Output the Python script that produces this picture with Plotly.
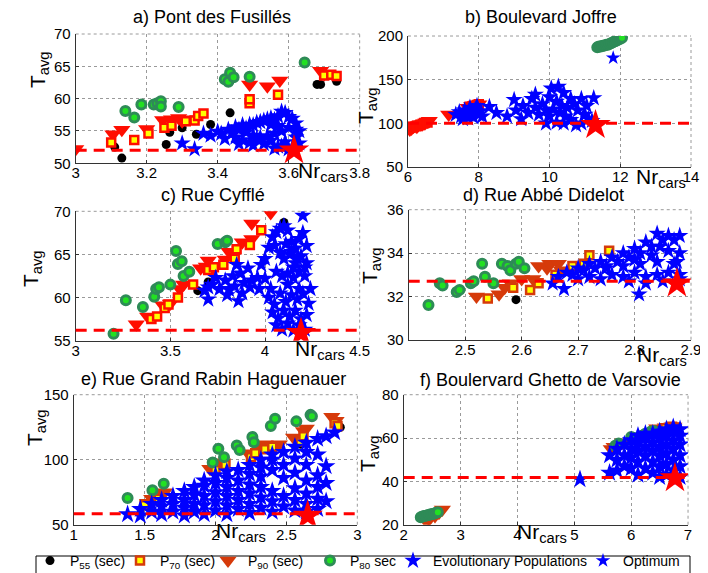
import plotly.graph_objects as go

FONT = "Liberation Sans, Arial, sans-serif"

# ---------------- panel a) Pont des Fusillés ----------------
a_title = "a) Pont des Fusillés"
a_xticks = [3, 3.2, 3.4, 3.6, 3.8]
a_yticks = [50, 55, 60, 65, 70]
a_p55_x = [3.11, 3.13, 3.255, 3.265, 3.30, 3.34, 3.38, 3.435, 3.68, 3.69, 3.735]
a_p55_y = [52.5, 50.8, 52.9, 54.8, 55.5, 54.5, 56.0, 57.8, 62.2, 62.2, 62.7]
a_p70_x = [3.10, 3.165, 3.205, 3.25, 3.27, 3.31, 3.335, 3.345, 3.36, 3.49, 3.49, 3.57, 3.70, 3.72, 3.735]
a_p70_y = [53.2, 53.6, 54.6, 55.5, 55.8, 56.5, 56.6, 57.3, 57.7, 59.3, 59.9, 60.6, 63.6, 63.7, 63.5]
a_p90_x = [3.0, 3.105, 3.13, 3.20, 3.245, 3.27, 3.29, 3.30, 3.31, 3.49, 3.54, 3.575, 3.69, 3.70]
a_p90_y = [52.2, 54.5, 55.2, 55.3, 56.7, 56.8, 57.0, 56.5, 56.8, 62.2, 61.9, 62.8, 64.3, 63.8]
a_p80_x = [3.14, 3.165, 3.185, 3.22, 3.23, 3.24, 3.24, 3.29, 3.42, 3.43, 3.435, 3.445, 3.49, 3.645]
a_p80_y = [58.1, 57.1, 59.1, 59.1, 59.3, 59.6, 58.8, 58.7, 63.0, 62.6, 64.0, 63.3, 63.4, 65.6]
a_evo_x = [3.30, 3.335, 3.36, 3.38, 3.40, 3.41, 3.43, 3.44, 3.45, 3.46, 3.47, 3.48, 3.49, 3.50,
           3.51, 3.52, 3.53, 3.54, 3.55, 3.56, 3.57, 3.58, 3.59, 3.60, 3.61, 3.62,
           3.45, 3.47, 3.49, 3.51, 3.53, 3.55, 3.57, 3.59, 3.61, 3.63,
           3.48, 3.50, 3.52, 3.54, 3.56, 3.58, 3.60, 3.62,
           3.42, 3.46, 3.50, 3.56, 3.58, 3.60, 3.62, 3.63, 3.57, 3.55]
a_evo_y = [53.1, 52.2, 54.6, 54.3, 54.9, 54.6, 55.2, 54.7, 55.6, 55.2, 55.9, 55.4, 56.0, 55.9,
           56.3, 56.4, 56.6, 56.8, 57.0, 56.7, 57.3, 58.0, 57.8, 57.2, 56.9, 56.2,
           54.0, 53.6, 53.2, 53.8, 53.0, 53.5, 52.6, 53.3, 52.4, 53.1,
           54.8, 54.3, 54.0, 54.2, 54.6, 55.0, 55.5, 55.2,
           53.8, 53.0, 52.8, 52.3, 52.6, 52.2, 54.0, 55.0, 55.8, 56.0]
a_opt_x = [3.615]
a_opt_y = [52.0]
a_ref = 52.0

# ---------------- panel b) Boulevard Joffre ----------------
b_title = "b) Boulevard Joffre"
b_xticks = [6, 8, 10, 12, 14]
b_yticks = [50, 100, 150, 200]
b_p55_x = []
b_p55_y = []
b_p90_x = [6.0, 6.05, 6.1, 6.15, 6.2, 6.25, 6.3, 6.35, 6.4, 6.45, 6.5, 6.55, 6.6, 7.15, 7.7, 7.8, 7.9, 8.0]
b_p90_y = [95, 93, 94, 96, 97, 96, 98, 99, 99, 100, 101, 102, 103, 110, 118, 120, 121, 122]
b_p70_x = [6.05, 6.15, 6.25, 6.35, 6.45, 6.55, 7.75, 7.85, 7.95, 8.0]
b_p70_y = [95, 96, 97, 98, 100, 101, 119, 120, 121, 122]
b_p80_x = [11.35, 11.4, 11.45, 11.5, 11.55, 11.6, 11.65, 11.7, 11.75, 11.8, 11.85, 11.9, 11.95, 12.0, 12.05]
b_p80_y = [187, 188, 188, 189, 189, 190, 190, 191, 192, 193, 194, 195, 196, 197, 198]
b_evo_x = [7.35, 7.45, 7.5, 7.6, 7.65, 7.75, 7.8, 7.85, 7.9, 8.0, 8.05, 8.1, 7.55, 7.7, 7.95,
           8.3, 8.5, 8.8, 9.0, 9.05, 9.25, 9.5, 9.6, 9.8, 9.9, 10.05, 10.25, 10.4, 10.6, 10.9,
           11.25, 10.0, 10.2, 9.7, 10.3, 10.5, 10.8, 11.0, 11.1, 10.6, 10.4, 10.2, 10.9, 11.2,
           9.4, 9.2, 10.0, 10.7, 9.9, 10.35, 10.1, 11.05, 9.6, 10.45, 10.75]
b_evo_y = [110, 113, 108, 115, 110, 118, 112, 107, 116, 110, 114, 108, 105, 106, 120,
           119, 112, 108, 127, 115, 120, 128, 133, 122, 115, 140, 142, 135, 128, 128,
           129, 130, 125, 110, 112, 118, 115, 110, 105, 104, 100, 101, 100, 103,
           112, 105, 108, 122, 100, 120, 116, 120, 118, 108, 98]
b_best_x = [11.8]
b_best_y = [175]
b_opt_x = [11.3]
b_opt_y = [98]
b_ref = 100.0

# ---------------- panel c) Rue Cyfflé ----------------
c_title = "c) Rue Cyfflé"
c_xticks = [3, 3.5, 4, 4.5]
c_yticks = [55, 60, 65, 70]
c_p55_x = [3.645, 3.70, 4.10]
c_p55_y = [60.8, 61.8, 68.7]
c_p90_x = [3.32, 3.38, 3.46, 3.50, 3.55, 3.57, 3.66, 3.69, 3.70, 3.72, 3.79, 3.81, 3.88, 3.93, 3.93, 4.03]
c_p90_y = [56.9, 57.8, 59.1, 59.3, 61.0, 61.5, 63.4, 63.6, 64.3, 63.2, 64.4, 65.3, 66.4, 66.8, 68.6, 69.8]
c_p70_x = [3.40, 3.43, 3.47, 3.49, 3.54, 3.62, 3.70, 3.73, 3.78, 3.84, 3.85, 3.92, 3.98]
c_p70_y = [57.5, 57.8, 58.8, 59.2, 60.0, 61.5, 63.2, 63.5, 63.8, 64.5, 65.6, 66.1, 67.8]
c_p80_x = [3.20, 3.265, 3.355, 3.415, 3.425, 3.44, 3.50, 3.53, 3.54, 3.56, 3.57, 3.60, 3.75, 3.79, 3.80]
c_p80_y = [55.8, 59.7, 58.9, 60.1, 61.0, 61.2, 61.5, 65.4, 63.9, 64.2, 62.5, 63.0, 66.2, 66.4, 66.6]
c_evo_x = [3.68, 3.70, 3.72, 3.74, 3.70, 3.76, 3.79, 3.81, 3.83, 3.85, 3.87, 3.89, 3.91, 3.93,
           3.80, 3.84, 3.88, 3.92, 3.86,
           3.96, 3.98, 4.00, 4.02, 4.04, 4.06, 4.08, 4.10, 4.12, 4.14, 4.16, 4.18, 4.20, 4.22,
           3.97, 4.00, 4.03, 4.06, 4.09, 4.12, 4.15, 4.18, 4.21, 4.24,
           4.02, 4.05, 4.08, 4.11, 4.14, 4.17, 4.20, 4.23,
           4.04, 4.07, 4.10, 4.13, 4.16, 4.19, 4.22,
           4.06, 4.09, 4.12, 4.15, 4.18, 4.21,
           4.10, 4.13, 4.16, 4.19, 4.22,
           4.12, 4.15, 4.18, 4.21,
           4.20, 4.05, 4.08, 4.11, 4.14, 4.17]
c_evo_y = [60.8, 59.8, 61.5, 62.3, 61.2, 61.0, 62.0, 60.9, 62.5, 63.8, 62.8, 61.7, 63.4, 62.0,
           60.3, 61.3, 60.5, 61.2, 59.6,
           62.3, 63.8, 64.5, 65.8, 67.0, 67.6, 68.0, 68.3, 67.8, 66.5, 65.7, 66.8, 67.5, 66.0,
           61.0, 62.2, 61.0, 63.0, 62.5, 61.5, 62.3, 61.0, 62.5, 61.0,
           60.0, 59.2, 60.5, 59.5, 60.3, 59.8, 60.5, 59.3,
           58.3, 57.6, 58.5, 57.8, 58.5, 57.5, 58.0,
           56.8, 56.3, 57.0, 56.2, 56.8, 56.3,
           64.5, 65.0, 64.0, 64.8, 64.0,
           62.8, 63.5, 63.0, 63.5,
           69.5, 66.0, 65.2, 66.2, 65.3, 64.5]
c_opt_x = [4.19]
c_opt_y = [55.9]
c_ref = 56.2

# ---------------- panel d) Rue Abbé Didelot ----------------
d_title = "d) Rue Abbé Didelot"
d_xticks = [2.5, 2.6, 2.7, 2.8, 2.9]
d_yticks = [30, 32, 34, 36]
d_p55_x = [2.59]
d_p55_y = [31.85]
d_p90_x = [2.52, 2.56, 2.57, 2.58, 2.60, 2.62, 2.63, 2.645, 2.65, 2.665, 2.67]
d_p90_y = [32.0, 32.1, 32.4, 32.6, 32.8, 32.8, 33.4, 33.3, 33.5, 33.5, 33.2]
d_p70_x = [2.54, 2.585, 2.615, 2.63, 2.66, 2.69, 2.71, 2.72, 2.755]
d_p70_y = [31.9, 32.4, 32.3, 32.6, 33.0, 33.4, 33.5, 33.9, 34.1]
d_p80_x = [2.435, 2.455, 2.46, 2.485, 2.49, 2.51, 2.515, 2.53, 2.535, 2.55, 2.565, 2.575, 2.58, 2.59, 2.595, 2.605]
d_p80_y = [31.6, 32.6, 32.5, 32.2, 32.3, 32.6, 32.7, 33.5, 32.9, 32.6, 33.5, 33.4, 33.2, 33.5, 33.6, 33.3]
d_evo_x = [2.655, 2.675, 2.665, 2.68, 2.69, 2.70, 2.71, 2.72, 2.73, 2.74, 2.75, 2.76, 2.77, 2.78,
           2.79, 2.80, 2.81, 2.82, 2.83, 2.84, 2.85, 2.86, 2.87, 2.88,
           2.70, 2.72, 2.74, 2.76, 2.78, 2.80, 2.82, 2.84, 2.86, 2.88,
           2.75, 2.78, 2.81, 2.84, 2.87,
           2.79, 2.82, 2.85, 2.88,
           2.808, 2.80, 2.83, 2.86, 2.88, 2.845, 2.875]
d_evo_y = [32.6, 32.35, 32.9, 33.1, 33.0, 33.3, 33.2, 33.5, 33.3, 33.6, 33.4, 33.8, 33.6, 34.0,
           33.8, 34.2, 34.0, 34.5, 34.3, 34.9, 34.6, 34.8, 34.6, 34.8,
           32.8, 32.9, 32.8, 33.0, 32.9, 33.1, 32.9, 33.0, 33.1, 33.0,
           33.3, 33.4, 33.5, 33.6, 33.5,
           32.7, 32.6, 32.7, 32.8,
           32.1, 33.7, 33.9, 34.1, 34.0, 34.3, 33.6]
d_opt_x = [2.875]
d_opt_y = [32.6]
d_ref = 32.7

# ---------------- panel e) Rue Grand Rabin Haguenauer ----------------
e_title = "e) Rue Grand Rabin Haguenauer"
e_xticks = [1, 1.5, 2, 2.5, 3]
e_yticks = [50, 100, 150]
e_p55_x = [2.88, 2.60]
e_p55_y = [125, 112]
e_p90_x = [1.52, 1.55, 1.62, 1.64, 1.96, 2.00, 2.05, 2.23, 2.30, 2.35, 2.45, 2.55, 2.62, 2.64, 2.82, 2.85]
e_p90_y = [67, 70, 73, 75, 93, 95, 98, 105, 110, 112, 112, 117, 122, 124, 133, 130]
e_p70_x = [1.50, 1.60, 2.00, 2.07, 2.25, 2.28, 2.35, 2.40, 2.60, 2.62, 2.84, 2.86]
e_p70_y = [65, 70, 92, 96, 102, 105, 108, 110, 114, 118, 128, 126]
e_p80_x = [1.38, 1.555, 1.635, 1.98, 2.02, 2.06, 2.15, 2.17, 2.26, 2.27, 2.39, 2.42, 2.57, 2.67, 2.68]
e_p80_y = [70.5, 76.5, 81.5, 97.8, 108.5, 102, 111, 107.5, 117.5, 113.5, 126, 131.5, 129.5, 134.5, 133.5]
e_evo_x = [1.38,
           1.47, 1.47,
           1.55, 1.55,
           1.62, 1.62, 1.62,
           1.70, 1.70, 1.70,
           1.78, 1.78, 1.78, 1.78,
           1.85, 1.85, 1.85, 1.85,
           1.92, 1.92, 1.92, 1.92, 1.92,
           2.00, 2.00, 2.00, 2.00, 2.00,
           2.08, 2.08, 2.08, 2.08, 2.08, 2.08,
           2.16, 2.16, 2.16, 2.16, 2.16,
           2.24, 2.24, 2.24, 2.24, 2.24, 2.24,
           2.32, 2.32, 2.32, 2.32, 2.32, 2.32,
           2.40, 2.40, 2.40, 2.40, 2.40, 2.40,
           2.48, 2.48, 2.48, 2.48, 2.48,
           2.56, 2.56, 2.56, 2.56, 2.56, 2.56,
           2.64, 2.64, 2.64, 2.64, 2.64, 2.64, 2.64,
           2.72, 2.72, 2.72, 2.72, 2.72, 2.72,
           2.78, 2.78, 2.78, 2.78,
           2.84]
e_evo_y = [58,
           62, 57,
           60, 66,
           58, 64, 69,
           60, 66, 72,
           57, 63, 69, 76,
           60, 66, 73, 79,
           58, 65, 72, 80, 84,
           61, 68, 75, 82, 88,
           58, 65, 72, 79, 86, 91,
           62, 69, 76, 84, 92,
           59, 66, 74, 81, 89, 96,
           63, 71, 79, 87, 94, 100,
           60, 68, 76, 92, 100, 104,
           64, 72, 86, 96, 106,
           61, 69, 78, 90, 101, 110,
           60, 66, 74, 84, 96, 106, 113,
           62, 70, 79, 88, 104, 116,
           68, 82, 95, 118,
           121]
e_opt_x = [2.65]
e_opt_y = [57]
e_ref = 58.5

# ---------------- panel f) Boulervard Ghetto de Varsovie ----------------
f_title = "f) Boulervard Ghetto de Varsovie"
f_xticks = [2, 3, 4, 5, 6, 7]
f_yticks = [20, 40, 60, 80]
f_p55_x = []
f_p55_y = []
f_p90_x = [2.40, 2.45, 2.55, 2.62, 2.68, 5.65, 5.70, 5.85, 6.45, 6.60, 6.72, 6.75]
f_p90_y = [21.5, 22.5, 24.0, 25.5, 27.0, 55.0, 56.0, 58.0, 64.5, 65.0, 65.5, 65.3]
f_p70_x = [6.60, 6.72, 6.75]
f_p70_y = [64.5, 65.2, 64.8]
f_p80_x = [2.30, 2.33, 2.36, 2.39, 2.42, 2.45, 2.48, 2.51, 2.54, 2.57, 2.60,
           5.72, 5.78, 6.00, 6.05, 6.20, 6.25, 6.35, 6.40]
f_p80_y = [23.5, 23.8, 24.0, 24.2, 24.4, 24.6, 24.8, 25.0, 25.2, 25.5, 25.8,
           56.5, 57.5, 60.5, 60.0, 61.2, 62.0, 63.0, 63.2]
f_evo_x = [5.10,
           5.62, 5.62,
           5.75, 5.75, 5.75,
           5.88, 5.88, 5.88,
           6.00, 6.00, 6.00, 6.00,
           6.12, 6.12, 6.12, 6.12, 6.12,
           6.25, 6.25, 6.25, 6.25, 6.25,
           6.38, 6.38, 6.38, 6.38, 6.38,
           6.50, 6.50, 6.50, 6.50, 6.50, 6.50,
           6.62, 6.62, 6.62, 6.62, 6.62, 6.62,
           6.74, 6.74, 6.74, 6.74, 6.74, 6.74,
           6.86, 6.86, 6.86, 6.86, 6.86, 6.86]
f_evo_y = [41,
           44, 52,
           45, 50, 55,
           47, 52, 57,
           46, 51, 55, 59,
           43, 49, 54, 58, 61,
           46, 52, 56, 60, 62,
           44, 49, 54, 58, 62,
           42, 47, 52, 56, 60, 63,
           43, 48, 53, 57, 61, 64,
           45, 50, 55, 59, 63, 65,
           42, 47, 52, 57, 61, 64]
f_opt_x = [6.77]
f_opt_y = [41.5]
f_ref = 41.8

# legend texts
leg_names = ["P<sub>55</sub> (sec)", "P<sub>70</sub> (sec)", "P<sub>90</sub> (sec)",
             "P<sub>80</sub> sec", "Evolutionary Populations", "Optimum"]

# ---------------- layout geometry ----------------
panels = [
    dict(key="a", title=a_title, xr=[3, 3.8], yr=[50, 70], xt=a_xticks, yt=a_yticks,
         xd=[0.0956, 0.4967], yd=[0.7290, 0.9546], red="#ff0d00", sqfill="#ffff00", star=13,
         p55=(a_p55_x, a_p55_y), p70=(a_p70_x, a_p70_y), p90=(a_p90_x, a_p90_y),
         p80=(a_p80_x, a_p80_y), evo=(a_evo_x, a_evo_y), opt=(a_opt_x, a_opt_y), ref=a_ref,
         tpos=(204, 9), ylab=(31, 62), xlab=(315, 164)),
    dict(key="b", title=b_title, xr=[6, 14], yr=[50, 200], xt=b_xticks, yt=b_yticks,
         xd=[0.5650, 0.9647], yd=[0.7225, 0.9511], red="#ff0d00", sqfill="#ff0d00", star=13,
         p55=(b_p55_x, b_p55_y), p70=(b_p70_x, b_p70_y), p90=(b_p90_x, b_p90_y),
         p80=(b_p80_x, b_p80_y), evo=(b_evo_x, b_evo_y), opt=(b_opt_x, b_opt_y), ref=b_ref,
         tpos=(533, 9), ylab=(359, 98), xlab=(653, 170)),
    dict(key="c", title=c_title, xr=[3, 4.5], yr=[55, 70], xt=c_xticks, yt=c_yticks,
         xd=[0.0956, 0.4967], yd=[0.4194, 0.6452], red="#ff0d00", sqfill="#ffff00", star=13,
         p55=(c_p55_x, c_p55_y), p70=(c_p70_x, c_p70_y), p90=(c_p90_x, c_p90_y),
         p80=(c_p80_x, c_p80_y), evo=(c_evo_x, c_evo_y), opt=(c_opt_x, c_opt_y), ref=c_ref,
         tpos=(205, 187), ylab=(24, 261), xlab=(312, 342)),
    dict(key="d", title=d_title, xr=[2.4, 2.9], yr=[30, 36], xt=d_xticks, yt=d_yticks,
         xd=[0.5660, 0.9647], yd=[0.4211, 0.6480], red="#d63a0a", sqfill="#ffff00", star=13,
         p55=(d_p55_x, d_p55_y), p70=(d_p70_x, d_p70_y), p90=(d_p90_x, d_p90_y),
         p80=(d_p80_x, d_p80_y), evo=(d_evo_x, d_evo_y), opt=(d_opt_x, d_opt_y), ref=d_ref,
         tpos=(535, 187), ylab=(363, 258), xlab=(654, 348)),
    dict(key="e", title=e_title, xr=[1, 3], yr=[50, 150], xt=e_xticks, yt=e_yticks,
         xd=[0.0928, 0.4934], yd=[0.0982, 0.3251], red="#d63a0a", sqfill="#ffff00", star=14,
         p55=(e_p55_x, e_p55_y), p70=(e_p70_x, e_p70_y), p90=(e_p90_x, e_p90_y),
         p80=(e_p80_x, e_p80_y), evo=(e_evo_x, e_evo_y), opt=(e_opt_x, e_opt_y), ref=e_ref,
         tpos=(205, 371), ylab=(28, 420), xlab=(233, 524)),
    dict(key="f", title=f_title, xr=[2, 7], yr=[20, 80], xt=f_xticks, yt=f_yticks,
         xd=[0.5589, 0.9605], yd=[0.0982, 0.3251], red="#d63a0a", sqfill="#ffff00", star=14,
         p55=(f_p55_x, f_p55_y), p70=(f_p70_x, f_p70_y), p90=(f_p90_x, f_p90_y),
         p80=(f_p80_x, f_p80_y), evo=(f_evo_x, f_evo_y), opt=(f_opt_x, f_opt_y), ref=f_ref,
         tpos=(542, 372), ylab=(361, 446), xlab=(534, 525)),
]

W, H = 708, 573
fig = go.Figure()
layout = dict(width=W, height=H, margin=dict(l=0, r=0, t=0, b=0, autoexpand=False),
              paper_bgcolor="white", plot_bgcolor="white", showlegend=True,
              font=dict(family=FONT, size=14, color="black"))
annotations = []
shapes = []

LEG = "d"
# per-entry legend widths (px) to reproduce the compact legend spacing
LEGW = [45, 43, 57, 38, 145, 60]
for i, p in enumerate(panels):
    n = "" if i == 0 else str(i + 1)
    xa, ya = "x" + n, "y" + n
    leg = p["key"] == LEG
    red = p["red"]
    axcommon = dict(showline=True, linecolor="#333", linewidth=1, showgrid=True,
                    gridcolor="#9a9a9a", griddash="dot", gridwidth=1, zeroline=False,
                    ticks="inside", ticklen=3, tickcolor="#333",
                    tickfont=dict(size=15, color="black"))
    layout["xaxis" + n] = dict(domain=p["xd"], range=p["xr"], anchor=ya, tickvals=p["xt"],
                              ticktext=[f"{v:g}" for v in p["xt"]], ticklabelstandoff=-4,
                              **axcommon)
    layout["yaxis" + n] = dict(domain=p["yd"], range=p["yr"], anchor=xa, tickvals=p["yt"],
                              ticktext=[f"{v:g}" for v in p["yt"]], ticklabelstandoff=1,
                              **axcommon)
    shapes.append(dict(type="line", xref=xa + " domain", yref=ya + " domain", x0=0, x1=1, y0=1, y1=1,
                       line=dict(color="#9a9a9a", width=1, dash="dot"), layer="below"))
    shapes.append(dict(type="line", xref=xa + " domain", yref=ya + " domain", x0=1, x1=1, y0=0, y1=1,
                       line=dict(color="#9a9a9a", width=1, dash="dot"), layer="below"))
    fig.add_trace(go.Scatter(x=p["p55"][0], y=p["p55"][1], xaxis=xa, yaxis=ya, mode="markers",
                             name=leg_names[0], showlegend=leg, legendrank=1, legendwidth=LEGW[0],
                             marker=dict(symbol="circle", size=9, color="black")))
    fig.add_trace(go.Scatter(x=p["p90"][0], y=p["p90"][1], xaxis=xa, yaxis=ya, mode="markers",
                             name=leg_names[2], showlegend=leg, legendrank=3, legendwidth=LEGW[2],
                             marker=dict(symbol="triangle-down", size=15, color=red,
                                         line=dict(width=0))))
    fig.add_trace(go.Scatter(x=p["p70"][0], y=p["p70"][1], xaxis=xa, yaxis=ya, mode="markers",
                             name=leg_names[1], showlegend=leg, legendrank=2, legendwidth=LEGW[1],
                             marker=dict(symbol="square", size=8, color=p["sqfill"],
                                         line=dict(width=2.5, color=red))))
    fig.add_trace(go.Scatter(x=p["p80"][0], y=p["p80"][1], xaxis=xa, yaxis=ya, mode="markers",
                             name=leg_names[3], showlegend=leg, legendrank=4, legendwidth=LEGW[3],
                             marker=dict(symbol="circle", size=9, color="#22e022",
                                         line=dict(width=3, color="#2e8b57"))))
    fig.add_trace(go.Scatter(x=p["evo"][0], y=p["evo"][1], xaxis=xa, yaxis=ya, mode="markers",
                             name=leg_names[4], showlegend=leg, legendrank=5, legendwidth=LEGW[4],
                             marker=dict(symbol="star", size=p["star"], color="#0000ff",
                                         line=dict(width=0))))
    fig.add_trace(go.Scatter(x=p["opt"][0], y=p["opt"][1], xaxis=xa, yaxis=ya, mode="markers",
                             showlegend=False, hoverinfo="skip",
                             marker=dict(symbol="star", size=23, color="#ff0000",
                                         line=dict(width=0))))
    shapes.append(dict(type="line", xref=xa + " domain", yref=ya, x0=0, x1=1, y0=p["ref"], y1=p["ref"],
                       line=dict(color="#ff0000", width=3, dash="11px,7px"), layer="above"))
    annotations.append(dict(text=p["title"], xref="paper", yref="paper", x=p["tpos"][0] / W,
                            y=1 - p["tpos"][1] / H, showarrow=False, xanchor="center",
                            yanchor="middle", font=dict(size=18, color="black")))
    annotations.append(dict(text="T<sub>avg</sub>", xref="paper", yref="paper", x=p["ylab"][0] / W,
                            y=1 - p["ylab"][1] / H, showarrow=False, textangle=-90,
                            xanchor="center", yanchor="middle", font=dict(size=21, color="black")))
    annotations.append(dict(text="Nr<sub>cars</sub>", xref="paper", yref="paper", x=p["xlab"][0] / W,
                            y=1 - p["xlab"][1] / H, showarrow=False, xanchor="center",
                            yanchor="middle", font=dict(size=21, color="black")))

fig.add_trace(go.Scatter(x=b_best_x, y=b_best_y, xaxis="x2", yaxis="y2", mode="markers",
                         name=leg_names[5], legendrank=6, legendwidth=LEGW[5],
                         marker=dict(symbol="star", size=11, color="#0000ff", line=dict(width=0))))

# legend frame
shapes.append(dict(type="rect", xref="paper", yref="paper", x0=28 / W, x1=682 / W,
                   y0=1 - 548 / H, y1=-0.05, line=dict(color="black", width=1),
                   fillcolor="rgba(0,0,0,0)", layer="above"))

layout["annotations"] = annotations
layout["shapes"] = shapes
layout["legend"] = dict(orientation="h", x=22 / W, y=1 - 537 / H, xanchor="left", yanchor="top",
                        borderwidth=0, bgcolor="rgba(0,0,0,0)",
                        font=dict(size=14, color="black"), itemsizing="trace",
                        tracegroupgap=0, traceorder="normal")
fig.update_layout(**layout)
fig.write_html("out.html")
